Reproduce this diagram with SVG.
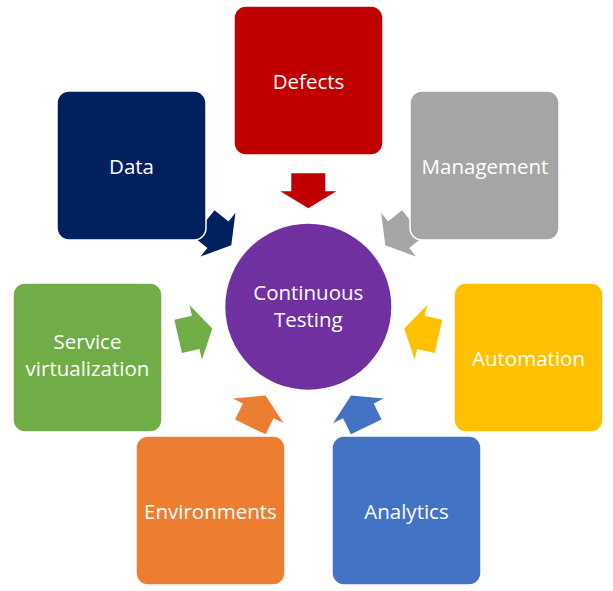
<svg xmlns="http://www.w3.org/2000/svg" width="613" height="591" viewBox="0 0 613 591">
<defs>
<style>
.box{stroke:#fff;stroke-width:1.5}
.lbl{font-family:"Open Sans","Liberation Sans",sans-serif;font-size:20.5px;fill:#fff;text-anchor:middle}
</style>
<polygon id="arr" points="-17,-17.5 17,-17.5 17,0.5 28,0.5 0,17.5 -28,0.5 -17,0.5"/>
</defs>
<rect width="613" height="591" fill="#fff"/>
<g id="connectors" transform="translate(308.3,306.7)">
<use href="#arr" transform="rotate(0) translate(0,-116)" fill="#C00000"/>
<use href="#arr" transform="rotate(51.43) translate(0,-116)" fill="#A5A5A5"/>
<use href="#arr" transform="rotate(102.86) translate(0,-116)" fill="#FFC000"/>
<use href="#arr" transform="rotate(154.29) translate(0,-116)" fill="#4472C4"/>
<use href="#arr" transform="rotate(205.71) translate(0,-116)" fill="#ED7D31"/>
<use href="#arr" transform="rotate(257.14) translate(0,-116)" fill="#70AD47"/>
<use href="#arr" transform="rotate(308.57) translate(0,-116)" fill="#002060"/>
</g>
<g id="center">
<circle cx="308.3" cy="306.7" r="83" fill="#7030A0"/>
<text class="lbl" x="308.3" y="299.5">Continuous</text>
<text class="lbl" x="308.3" y="326.5">Testing</text>
</g>
<g id="defects">
<rect class="box" x="234" y="6" width="149" height="149" rx="12" fill="#C00000"/>
<text class="lbl" x="308.5" y="88.5">Defects</text>
</g>
<g id="management">
<rect class="box" x="410" y="91" width="149" height="149" rx="12" fill="#A5A5A5"/>
<text class="lbl" x="485" y="173.5">Management</text>
</g>
<g id="automation">
<rect class="box" x="454" y="283" width="149" height="149" rx="12" fill="#FFC000"/>
<text class="lbl" x="528.5" y="365.5">Automation</text>
</g>
<g id="analytics">
<rect class="box" x="332" y="436" width="149" height="149" rx="12" fill="#4472C4"/>
<text class="lbl" x="406.5" y="518.5">Analytics</text>
</g>
<g id="environments">
<rect class="box" x="136" y="436" width="149" height="149" rx="12" fill="#ED7D31"/>
<text class="lbl" x="210.5" y="518.5">Environments</text>
</g>
<g id="service">
<rect class="box" x="13" y="283" width="149" height="149" rx="12" fill="#70AD47"/>
<text class="lbl" x="87.5" y="348.5">Service</text>
<text class="lbl" x="87.5" y="376">virtualization</text>
</g>
<g id="data">
<rect class="box" x="57" y="91" width="149" height="149" rx="12" fill="#002060"/>
<text class="lbl" x="131.5" y="173.5">Data</text>
</g>
</svg>
